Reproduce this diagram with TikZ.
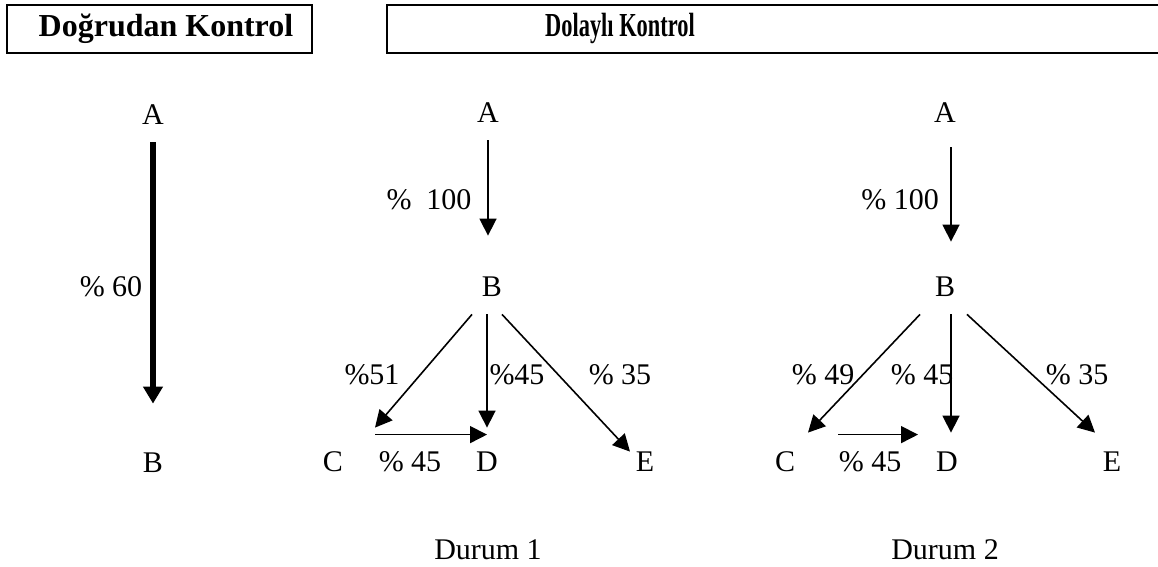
\documentclass[tikz,border=0pt]{standalone}
\usepackage{fontspec}
\setmainfont{Liberation Serif}
\usepackage{graphicx}
\usetikzlibrary{arrows.meta}
\tikzset{
 ltr/.style={inner sep=0, minimum height=27pt, font=\fontsize{15}{18}\selectfont},
 pct/.style={inner sep=0, font=\fontsize{15}{18}\selectfont},
 ttl/.style={inner sep=0, anchor=base, font=\fontsize{16}{19}\selectfont\bfseries},
 arr/.style={line width=.8pt, -{Triangle[length=8.5pt,width=8.5pt]}},
 bigarr/.style={line width=3pt, -{Triangle[length=8.5pt,width=9.5pt]}}
}

\begin{document}
\begin{tikzpicture}[x=.5pt, y=-.5pt]
\useasboundingbox (0,0) rectangle (1158,567);
% baslik kutulari
\draw[line width=.8pt] (7,5) rectangle (312,53);
\draw[line width=.8pt] (387,5) rectangle (1175,53);
\node[ttl] (dk) at (166,37) {Doğrudan Kontrol};
\node[ttl] (ik) at (620,37) {\scalebox{.7}[1.05]{Dolaylı Kontrol}};
% dogrudan
\node[ltr] (A0) at (153,115) {A};
\node[ltr] (B0) at (153,463) {B};
\draw[bigarr, shorten >=16pt] (A0.south) -- (B0.north);
\node[pct] (p0) at (111,287) {\% 60};
% durum 1
\node[ltr] (A1) at (488,113) {A};
\node[ltr] (B1) at (492,287) {B};
\node[ltr] (C1) at (333,462) {C};
\node[ltr] (D1) at (487,462) {D};
\node[ltr] (E1) at (645,462) {E};
\draw[arr, shorten >=12pt] (A1.south) -- (A1.south |- B1.north);
\draw[arr] ([xshift=-10pt]B1.south) -- ([xshift=21pt,yshift=3.5pt]C1.north);
\draw[arr] ([xshift=-2.5pt]B1.south) -- ([yshift=3.5pt]D1.north);
\draw[arr] ([xshift=5pt]B1.south) -- ([xshift=-7.5pt,yshift=-8.5pt]E1.north);
\draw[arr] ([xshift=21pt]C1.north) -- (D1.north);
\node[pct] (p1) at (429,200) {\%~~100};
\node[pct] (p2) at (372,375) {\%51};
\node[pct] (p3) at (517,375) {\%45};
\node[pct] (p4) at (620,375) {\% 35};
\node[pct] (p5) at (410,462) {\% 45};
\node[pct] (d1) at (488,550) {Durum 1};
% durum 2
\node[ltr] (A2) at (945,113) {A};
\node[ltr] (B2) at (945,287) {B};
\node[ltr] (C2) at (785,462) {C};
\node[ltr] (D2) at (947,462) {D};
\node[ltr] (E2) at (1112,462) {E};
\draw[arr] ([xshift=3pt,yshift=-3.5pt]A2.south) -- ([xshift=3pt,yshift=9pt]B2.north);
\draw[arr] ([xshift=-12.5pt]B2.south) -- ([xshift=11.5pt,yshift=1pt]C2.north);
\draw[arr] ([xshift=3pt]B2.south) -- ([xshift=2pt,yshift=1pt]D2.north);
\draw[arr] ([xshift=11pt]B2.south) -- ([xshift=-8.5pt,yshift=1pt]E2.north);
\draw[arr] ([xshift=26.5pt]C2.north) -- ([xshift=-14.5pt]D2.north);
\node[pct] (q1) at (900,200) {\% 100};
\node[pct] (q2) at (823,375) {\% 49};
\node[pct] (q3) at (922,375) {\% 45};
\node[pct] (q4) at (1077,375) {\% 35};
\node[pct] (q5) at (870,462) {\% 45};
\node[pct] (d2) at (945,550) {Durum 2};
\end{tikzpicture}
\end{document}
